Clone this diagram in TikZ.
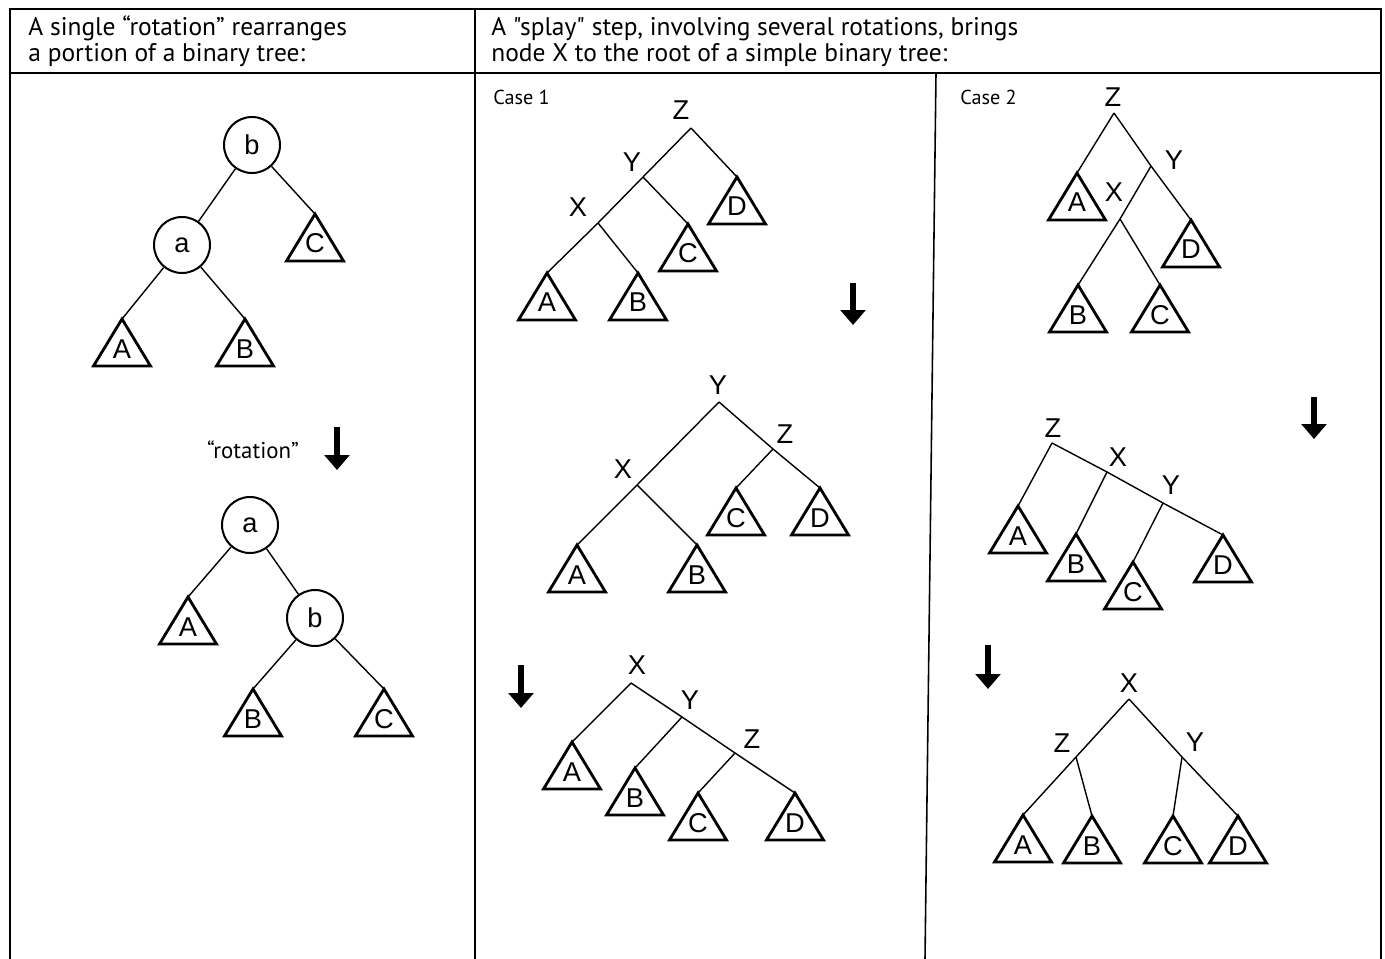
\documentclass[tikz,border=0pt]{standalone}
\usepackage{fontspec}
\newfontfamily\hdrfamily{PT Sans}
\newfontfamily\lblfamily{Liberation Sans}
\usetikzlibrary{arrows.meta}
\newcommand\lblfont{\lblfamily\fontsize{15.5pt}{17pt}\selectfont}
\newcommand\tri[4]{%
  \coordinate (#1) at (#2,#3);
  \draw[trishape] (#1) -- ++(-28.5,47) -- ++(57,0) -- cycle;
  \node[trilbl] (#1-t) at (#2,#3+39) {#4};
}
\newcommand\downarr[4]{%
  \coordinate (#1-s) at (#2,#3);
  \coordinate (#1-e) at (#2,#4);
  \draw[bigarrow] (#1-s) -- (#1-e);
}
\tikzset{
  frame/.style={line width=0.9pt},
  edge/.style={line width=0.8pt},
  trishape/.style={line width=1.6pt, line join=miter},
  trilbl/.style={anchor=base, inner sep=0pt, font=\lblfont},
  vlbl/.style={inner sep=0pt, font=\lblfont},
  circ/.style={circle, draw, line width=1.15pt, minimum size=1.12cm, inner sep=0pt, font=\lblfont},
  hdr/.style={anchor=base west, inner sep=0pt, font=\hdrfamily\fontsize{14.5pt}{16pt}\selectfont},
  small/.style={inner sep=0pt, font=\hdrfamily\fontsize{11.5pt}{13pt}\selectfont},
  bigarrow/.style={line width=3.4pt, -{Triangle[width=14pt,length=8.5pt]}},
}
\begin{document}
\begin{tikzpicture}[x=0.02cm,y=-0.02cm]
\useasboundingbox (0,0) rectangle (1385,959);
% frame
\coordinate (tl) at (10,9);
\coordinate (tr) at (1381,9);
\coordinate (bl) at (10,959);
\coordinate (br) at (1381,959);
\coordinate (hl) at (10,73);
\coordinate (hr) at (1381,73);
\coordinate (d1t) at (475,9);
\coordinate (d1b) at (475,959);
\coordinate (d2t) at (936,73);
\coordinate (d2b) at (925,959);
\draw[frame] (bl) -- (tl) -- (tr) -- (br);
\draw[frame] (hl) -- (hr);
\draw[frame] (d1t) -- (d1b);
\draw[frame] (d2t) -- (d2b);
% headers
\node[hdr] (h1a) at (28,36) {A single “rotation” rearranges};
\node[hdr] (h1b) at (28,62) {a portion of a binary tree:};
\node[hdr] (h2a) at (491,36) {A "splay" step, involving several rotations, brings};
\node[hdr] (h2b) at (491,62) {node X to the root of a simple binary tree:};
\node[small, anchor=west] (case1) at (493,97) {Case 1};
\node[small, anchor=west] (case2) at (960,97) {Case 2};

% ---------- left: single rotation ----------
\node[circ] (Lb) at (252,145) {b};
\node[circ] (La) at (182,245) {a};
\tri{LC}{315}{214}{C}
\tri{LA}{122}{319}{A}
\tri{LB}{245}{319}{B}
\draw[edge] (Lb) -- (La);
\draw[edge] (Lb) -- (LC);
\draw[edge] (La) -- (LA);
\draw[edge] (La) -- (LB);

\node[small, font=\hdrfamily\fontsize{13pt}{15pt}\selectfont] (rot) at (253,450) {“rotation”};
\downarr{arrL}{337}{427}{470}

\node[circ] (La2) at (250,525) {a};
\node[circ] (Lb2) at (315,618) {b};
\tri{LA2}{188}{597}{A}
\tri{LB2}{253}{689}{B}
\tri{LC2}{384}{689}{C}
\draw[edge] (La2) -- (LA2);
\draw[edge] (La2) -- (Lb2);
\draw[edge] (Lb2) -- (LB2);
\draw[edge] (Lb2) -- (LC2);

% ---------- case 1 ----------
\coordinate (p1Z) at (691,128);
\coordinate (p1Y) at (643,177);
\coordinate (p1X) at (598,223);
\node[vlbl] (p1Zl) at (681,110) {Z};
\node[vlbl] (p1Yl) at (632,162) {Y};
\node[vlbl] (p1Xl) at (578,207) {X};
\tri{p1D}{737}{177}{D}
\tri{p1C}{688}{224}{C}
\tri{p1A}{547}{273}{A}
\tri{p1B}{638}{273}{B}
\draw[edge] (p1Z) -- (p1Y) -- (p1X) -- (p1A);
\draw[edge] (p1Z) -- (p1D);
\draw[edge] (p1Y) -- (p1C);
\draw[edge] (p1X) -- (p1B);

\downarr{arr1}{853}{283}{325}

\coordinate (q1Y) at (719,402);
\coordinate (q1Z) at (773,449);
\coordinate (q1X) at (637,485);
\node[vlbl] (q1Yl) at (718,385) {Y};
\node[vlbl] (q1Zl) at (785,434) {Z};
\node[vlbl] (q1Xl) at (623,469) {X};
\tri{q1C}{736}{488}{C}
\tri{q1D}{820}{488}{D}
\tri{q1A}{577}{545}{A}
\tri{q1B}{697}{545}{B}
\draw[edge] (q1Y) -- (q1X) -- (q1A);
\draw[edge] (q1Y) -- (q1Z) -- (q1D);
\draw[edge] (q1Z) -- (q1C);
\draw[edge] (q1X) -- (q1B);

\downarr{arr2}{521}{665}{708}

\coordinate (r1X) at (631,683);
\coordinate (r1Y) at (682,717);
\coordinate (r1Z) at (735,753);
\node[vlbl] (r1Xl) at (637,665) {X};
\node[vlbl] (r1Yl) at (690,700) {Y};
\node[vlbl] (r1Zl) at (752,739) {Z};
\tri{r1A}{572}{742}{A}
\tri{r1B}{635}{768}{B}
\tri{r1C}{698}{793}{C}
\tri{r1D}{795}{793}{D}
\draw[edge] (r1X) -- (r1A);
\draw[edge] (r1X) -- (r1Y) -- (r1Z) -- (r1D);
\draw[edge] (r1Y) -- (r1B);
\draw[edge] (r1Z) -- (r1C);

% ---------- case 2 ----------
\coordinate (p2Z) at (1114,113);
\coordinate (p2Y) at (1151,166);
\coordinate (p2X) at (1120,219);
\node[vlbl] (p2Zl) at (1113,97) {Z};
\node[vlbl] (p2Yl) at (1174,160) {Y};
\node[vlbl] (p2Xl) at (1114,192) {X};
\tri{p2A}{1077}{173}{A}
\tri{p2D}{1191}{220}{D}
\tri{p2B}{1078}{285}{B}
\tri{p2C}{1160}{285}{C}
\draw[edge] (p2Z) -- (p2A);
\draw[edge] (p2Z) -- (p2Y) -- (p2D);
\draw[edge] (p2Y) -- (p2X) -- (p2B);
\draw[edge] (p2X) -- (p2C);

\downarr{arr3}{1314}{397}{439}

\coordinate (q2Z) at (1052,443);
\coordinate (q2X) at (1107,472);
\coordinate (q2Y) at (1163,503);
\node[vlbl] (q2Zl) at (1053,428) {Z};
\node[vlbl] (q2Xl) at (1118,457) {X};
\node[vlbl] (q2Yl) at (1171,485) {Y};
\tri{q2A}{1018}{506}{A}
\tri{q2B}{1076}{534}{B}
\tri{q2C}{1133}{562}{C}
\tri{q2D}{1223}{535}{D}
\draw[edge] (q2Z) -- (q2A);
\draw[edge] (q2Z) -- (q2X) -- (q2Y) -- (q2D);
\draw[edge] (q2X) -- (q2B);
\draw[edge] (q2Y) -- (q2C);

\downarr{arr4}{988}{645}{689}

\coordinate (r2X) at (1129,699);
\coordinate (r2Z) at (1076,757);
\coordinate (r2Y) at (1182,757);
\node[vlbl] (r2Xl) at (1129,683) {X};
\node[vlbl] (r2Zl) at (1062,743) {Z};
\node[vlbl] (r2Yl) at (1195,742) {Y};
\tri{r2A}{1023}{815}{A}
\tri{r2B}{1092}{816}{B}
\tri{r2C}{1173}{816}{C}
\tri{r2D}{1238}{816}{D}
\draw[edge] (r2X) -- (r2Z) -- (r2A);
\draw[edge] (r2X) -- (r2Y) -- (r2D);
\draw[edge] (r2Z) -- (r2B);
\draw[edge] (r2Y) -- (r2C);
\end{tikzpicture}
\end{document}
